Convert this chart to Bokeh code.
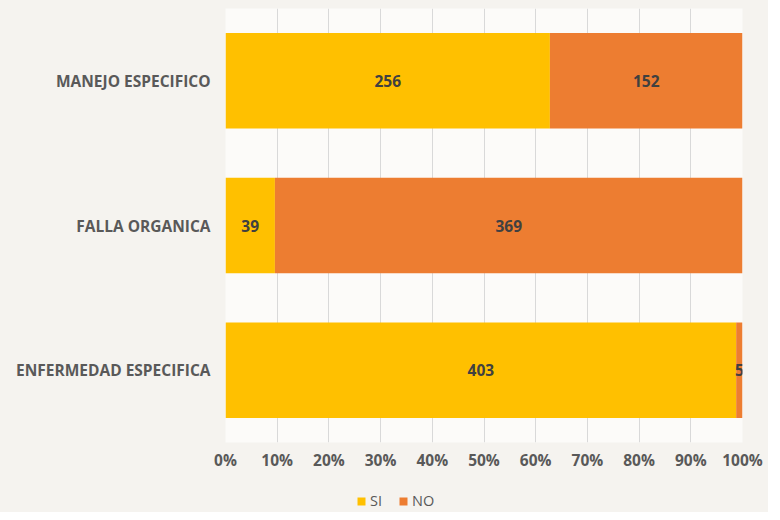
from bokeh.plotting import figure
from bokeh.layouts import column
from bokeh.models import ColumnDataSource, FactorRange, Range1d, Legend, LegendItem, NumeralTickFormatter, FixedTicker
from bokeh.core.properties import value
from bokeh.embed import file_html
from bokeh.resources import INLINE

categories = ["ENFERMEDAD ESPECIFICA", "FALLA ORGANICA", "MANEJO ESPECIFICO"]
si_values = [403, 39, 256]
no_values = [5, 369, 152]
series = ["SI", "NO"]
colors = ["#FFC000", "#ED7D31"]
x_ticks = [0, 0.1, 0.2, 0.3, 0.4, 0.5, 0.6, 0.7, 0.8, 0.9, 1.0]

totals = [a + b for a, b in zip(si_values, no_values)]
si_pct = [a / t for a, t in zip(si_values, totals)]
no_pct = [b / t for b, t in zip(no_values, totals)]

src = ColumnDataSource(dict(cat=categories, SI=si_pct, NO=no_pct))

FONT = "Open Sans"
FS = "15.5px"
BORDER = "#f5f3ef"
p = figure(width=768, height=488, output_backend="svg", toolbar_location=None,
           y_range=FactorRange(factors=categories, range_padding=0), x_range=Range1d(0, 1),
           min_border_left=225, min_border_right=26, min_border_top=8, min_border_bottom=46)
p.background_fill_color = "#fcfbf9"
p.border_fill_color = BORDER
p.outline_line_color = None

renderers = p.hbar_stack(series, y="cat", height=0.66, color=colors, source=src, line_color=None)

# labels
lbl_x, lbl_y, lbl_t = [], [], []
for c, a, b, pa, pb in zip(categories, si_values, no_values, si_pct, no_pct):
    lbl_x += [pa / 2, pa + pb / 2]
    lbl_y += [c, c]
    lbl_t += [str(a), str(b)]
lsrc = ColumnDataSource(dict(x=lbl_x, y=lbl_y, t=lbl_t))
p.text(x="x", y="y", text="t", source=lsrc, text_align="center", text_baseline="middle",
       text_font=value(FONT), text_font_style="bold", text_font_size=FS, text_color="#404040")

p.xaxis.ticker = FixedTicker(ticks=x_ticks)
p.xaxis.formatter = NumeralTickFormatter(format="0%")
p.xaxis.axis_line_color = None
p.xaxis.major_tick_line_color = None
p.xaxis.minor_tick_line_color = None
p.xaxis.major_label_text_font = FONT
p.xaxis.major_label_text_font_style = "bold"
p.xaxis.major_label_text_font_size = FS
p.xaxis.major_label_text_color = "#595959"
p.xaxis.major_label_standoff = 0

p.yaxis.axis_line_color = None
p.yaxis.major_tick_line_color = None
p.yaxis.minor_tick_line_color = None
p.yaxis.major_label_text_font = FONT
p.yaxis.major_label_text_font_style = "bold"
p.yaxis.major_label_text_font_size = FS
p.yaxis.major_label_text_color = "#595959"
p.yaxis.major_label_standoff = 9

p.xgrid.grid_line_color = "#d9d9d9"
p.ygrid.grid_line_color = None

# legend strip below the chart (its renderers are hidden; only the legend shows)
pl = figure(width=768, height=24, output_backend="svg", toolbar_location=None,
            x_axis_type=None, y_axis_type=None,
            y_range=FactorRange(factors=categories), x_range=Range1d(0, 1),
            min_border_left=225, min_border_right=26, min_border_top=0, min_border_bottom=0)
pl.background_fill_color = BORDER
pl.border_fill_color = BORDER
pl.outline_line_color = None
pl.grid.visible = False
leg_renderers = pl.hbar_stack(series, y="cat", height=0.66, color=colors, source=src, line_color=None)
for r in leg_renderers:
    r.visible = False

legend = Legend(items=[LegendItem(label=s, renderers=[r]) for s, r in zip(series, leg_renderers)],
                orientation="horizontal", location=(131, 2),
                label_text_font=FONT, label_text_font_size="14.5px", label_text_color="#595959",
                glyph_width=10, glyph_height=10, label_height=14, label_standoff=4, spacing=8,
                padding=0, margin=0, background_fill_alpha=0, border_line_color=None,
                inactive_fill_alpha=0)
pl.add_layout(legend)

layout = column(p, pl, spacing=0, styles={"background-color": BORDER})
open("out.html", "w").write(file_html(layout, INLINE))
